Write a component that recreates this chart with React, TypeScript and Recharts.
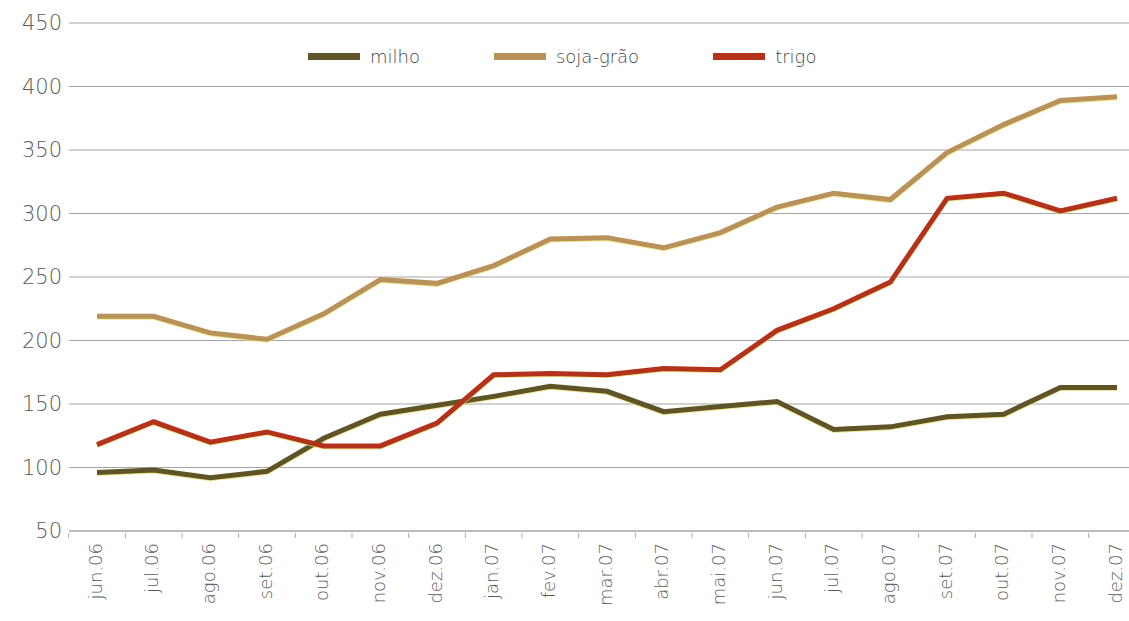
import React from "react";
import { LineChart, Line, XAxis, YAxis, CartesianGrid, Legend } from "recharts";

const categories = [
  "jun.06", "jul.06", "ago.06", "set.06", "out.06", "nov.06", "dez.06",
  "jan.07", "fev.07", "mar.07", "abr.07", "mai.07", "jun.07", "jul.07",
  "ago.07", "set.07", "out.07", "nov.07", "dez.07",
];
const milho = [96, 98, 92, 97, 123, 142, 149, 156, 164, 160, 144, 148, 152, 130, 132, 140, 142, 163, 163];
const soja = [219, 219, 206, 201, 221, 248, 245, 259, 280, 281, 273, 285, 305, 316, 311, 348, 370, 389, 392];
const trigo = [118, 136, 120, 128, 117, 117, 135, 173, 174, 173, 178, 177, 208, 225, 246, 312, 316, 302, 312];
const yTicks = [50, 100, 150, 200, 250, 300, 350, 400, 450];

const seriesInfo = [
  { key: "milho", name: "milho", color: "#5e5428" },
  { key: "soja", name: "soja-grão", color: "#b8925a" },
  { key: "trigo", name: "trigo", color: "#b3321c" },
];

const data = categories.map((c, i) => ({ cat: c, milho: milho[i], soja: soja[i], trigo: trigo[i] }));

const FONT = "'DejaVu Sans', sans-serif";
const PAD_L = 28;
const PAD_R = 29;

const XTick = (props: any) => {
  const { x, y, payload, width, visibleTicksCount } = props;
  const step = visibleTicksCount > 1 ? (width - PAD_L - PAD_R) / (visibleTicksCount - 1) : 56;
  return (
    <g>
      <line x1={x - step / 2} x2={x - step / 2} y1={y - 6} y2={y - 1} stroke="#aaa" strokeWidth={1} />
      <text
        x={x - 2}
        y={y + 4}
        transform={`rotate(-90, ${x - 2}, ${y + 4})`}
        textAnchor="end"
        dominantBaseline="central"
        fontFamily={FONT}
        fontWeight={200}
        fontSize={18}
        fill="#5a5a5a"
      >
        {payload.value}
      </text>
    </g>
  );
};

const LegendContent = () => (
  <div style={{ display: "flex", alignItems: "center", fontFamily: FONT, fontWeight: 200, fontSize: 18, color: "#444" }}>
    {seriesInfo.map((s) => (
      <div key={s.key} style={{ display: "flex", alignItems: "center", marginRight: 74 }}>
        <div style={{ width: 52, height: 7, background: s.color, marginRight: 10 }} />
        <span>{s.name}</span>
      </div>
    ))}
  </div>
);

export default function App() {
  return (
    <div style={{ position: "absolute", left: 0, top: 0, width: 1129, height: 621, overflow: "hidden", background: "#fff" }}>
      <LineChart width={1146} height={621} data={data} margin={{ top: 23, right: 0, bottom: 0, left: 0 }}>
        <CartesianGrid vertical={false} stroke="#a5a5a5" strokeWidth={1} />
        <XAxis
          dataKey="cat"
          interval={0}
          tick={<XTick />}
          tickLine={false}
          axisLine={{ stroke: "#a5a5a5" }}
          height={90}
          padding={{ left: PAD_L, right: PAD_R }}
        />
        <YAxis
          domain={[50, 450]}
          ticks={yTicks}
          width={69}
          tickSize={0}
          tickMargin={7}
          axisLine={false}
          tickLine={false}
          tick={{ fontFamily: FONT, fontWeight: 200, fontSize: 21, fill: "#5a5a5a" }}
        />
        <Legend
          verticalAlign="middle"
          align="center"
          content={<LegendContent />}
          wrapperStyle={{ top: 46, left: 308, width: 700 }}
        />
        {seriesInfo.map((s) => (
          <Line
            key={s.key}
            type="linear"
            dataKey={s.key}
            name={s.name}
            stroke={s.color}
            strokeWidth={5}
            dot={false}
            activeDot={false}
            isAnimationActive={false}
            style={{ filter: "drop-shadow(0px 1.5px 0px rgba(240,220,90,0.7))" }}
          />
        ))}
      </LineChart>
    </div>
  );
}
